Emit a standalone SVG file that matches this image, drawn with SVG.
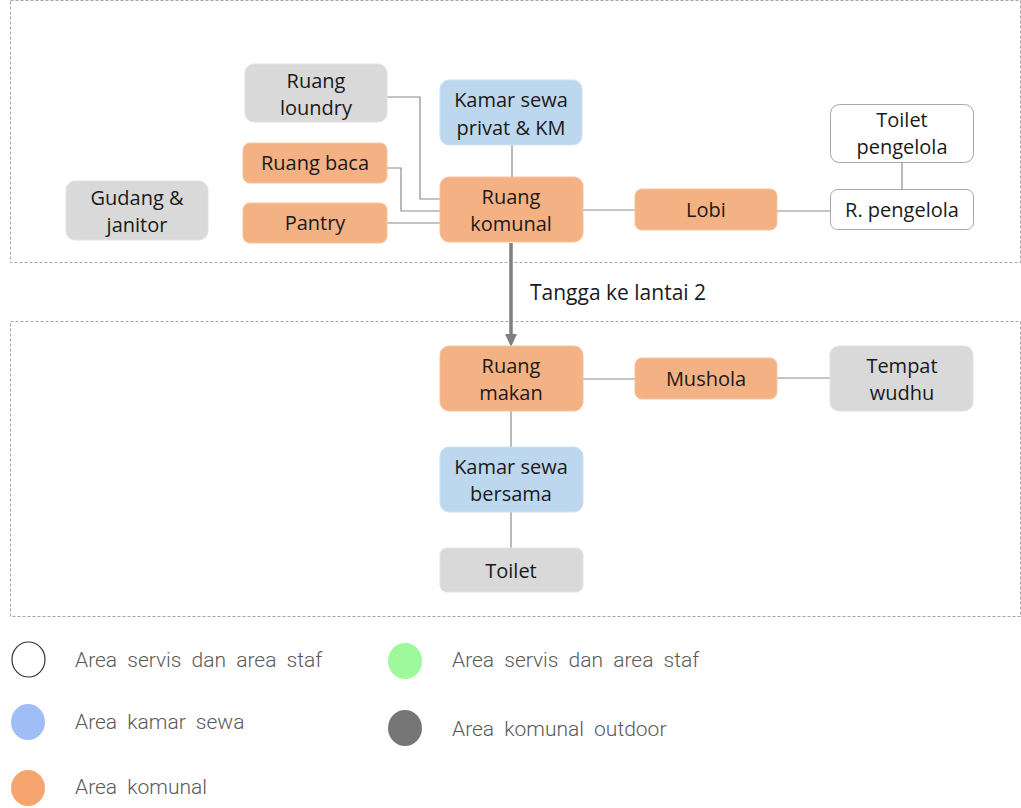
<svg xmlns="http://www.w3.org/2000/svg" width="1021" height="808" viewBox="0 0 1021 808">
<style>
.zone{fill:none;stroke:#a6a6a6;stroke-width:1;stroke-dasharray:3,2}
.o{fill:#f4b183;stroke:#f4c4a0;stroke-width:1}
.b{fill:#bdd7ee;stroke:#cfe1f2;stroke-width:1}
.g{fill:#d9d9d9;stroke:#e2e2e2;stroke-width:1}
.w{fill:#ffffff;stroke:#a6a6a6;stroke-width:1}
.t{font-family:"Open Sans","Liberation Sans",sans-serif;font-size:20px;fill:#1a1a1a;text-anchor:middle}
.c{fill:none;stroke:#8c8c8c;stroke-width:1.2}
.lg{font-family:Roboto,"Liberation Sans",sans-serif;font-size:21px;fill:#595959;word-spacing:5px;font-weight:300}
</style>
<rect class="zone" x="10.5" y="0.5" width="1010" height="262"/>
<rect class="zone" x="10.5" y="321.5" width="1010" height="295"/>
<g id="connectors">
<polyline class="c" points="387,97 420,97 420,199 440,199"/>
<polyline class="c" points="387,168 401,168 401,211 440,211"/>
<line class="c" x1="387" y1="223" x2="440" y2="223"/>
<line class="c" x1="512" y1="145" x2="512" y2="177"/>
<line class="c" x1="583" y1="210" x2="635" y2="210"/>
<line class="c" x1="777" y1="211" x2="830" y2="211"/>
<line class="c" x1="902" y1="163" x2="902" y2="189"/>
<line x1="511" y1="243" x2="511" y2="336" stroke="#7f7f7f" stroke-width="3.5"/>
<path d="M505,334 L517,334 L511,347 Z" fill="#7f7f7f"/>
<line class="c" x1="583" y1="379" x2="635" y2="379"/>
<line class="c" x1="777" y1="378" x2="830" y2="378"/>
<line class="c" x1="511" y1="411" x2="511" y2="447"/>
<line class="c" x1="511" y1="512" x2="511" y2="548"/>
</g>
<text x="530" y="300" font-family="'Open Sans','Liberation Sans',sans-serif" font-size="21" fill="#1a1a1a">Tangga ke lantai 2</text>
<g id="ruang-loundry"><rect class="g" x="245" y="64" width="142" height="58" rx="9"/><text class="t" x="316" y="88">Ruang</text><text class="t" x="316" y="115">loundry</text></g>
<g id="kamar-privat"><rect class="b" x="440" y="80" width="142" height="65" rx="9"/><text class="t" x="511" y="107">Kamar sewa</text><text class="t" x="511" y="135">privat &amp; KM</text></g>
<g id="ruang-baca"><rect class="o" x="243" y="143" width="144" height="40" rx="7"/><text class="t" x="315" y="170">Ruang baca</text></g>
<g id="pantry"><rect class="o" x="243" y="203" width="144" height="40" rx="7"/><text class="t" x="315" y="230">Pantry</text></g>
<g id="ruang-komunal"><rect class="o" x="440" y="177" width="143" height="65" rx="9"/><text class="t" x="511" y="204">Ruang</text><text class="t" x="511" y="231">komunal</text></g>
<g id="gudang"><rect class="g" x="66" y="181" width="142" height="59" rx="9"/><text class="t" x="137" y="205">Gudang &amp;</text><text class="t" x="137" y="232">janitor</text></g>
<g id="lobi"><rect class="o" x="635" y="189" width="142" height="41" rx="7"/><text class="t" x="706" y="217">Lobi</text></g>
<g id="toilet-pengelola"><rect class="w" x="830.5" y="104.5" width="143" height="58" rx="9"/><text class="t" x="902" y="127">Toilet</text><text class="t" x="902" y="154">pengelola</text></g>
<g id="r-pengelola"><rect class="w" x="830.5" y="189.5" width="143" height="40" rx="7"/><text class="t" x="902" y="217">R. pengelola</text></g>
<g id="ruang-makan"><rect class="o" x="440" y="346" width="143" height="65" rx="9"/><text class="t" x="511" y="373">Ruang</text><text class="t" x="511" y="400">makan</text></g>
<g id="mushola"><rect class="o" x="635" y="358" width="142" height="41" rx="7"/><text class="t" x="706" y="386">Mushola</text></g>
<g id="tempat-wudhu"><rect class="g" x="830" y="346" width="143" height="65" rx="9"/><text class="t" x="902" y="373">Tempat</text><text class="t" x="902" y="400">wudhu</text></g>
<g id="kamar-bersama"><rect class="b" x="440" y="447" width="143" height="65" rx="9"/><text class="t" x="511" y="474">Kamar sewa</text><text class="t" x="511" y="501">bersama</text></g>
<g id="toilet"><rect class="g" x="440" y="548" width="143" height="44" rx="7"/><text class="t" x="511" y="578">Toilet</text></g>
<g id="legend">
<ellipse cx="28.5" cy="659.5" rx="16.5" ry="17.5" fill="#fff" stroke="#333" stroke-width="1.2"/>
<text class="lg" x="75" y="667">Area servis dan area staf</text>
<ellipse cx="28" cy="722" rx="17" ry="18" fill="#9fbdf6"/>
<text class="lg" x="75" y="729">Area kamar sewa</text>
<ellipse cx="28" cy="788" rx="17" ry="18" fill="#f7a56f"/>
<text class="lg" x="75" y="794">Area komunal</text>
<ellipse cx="405" cy="661" rx="17" ry="18" fill="#9ef99b"/>
<text class="lg" x="452" y="667">Area servis dan area staf</text>
<ellipse cx="405" cy="728" rx="17" ry="18" fill="#767676"/>
<text class="lg" x="452" y="736">Area komunal outdoor</text>
</g>
</svg>
